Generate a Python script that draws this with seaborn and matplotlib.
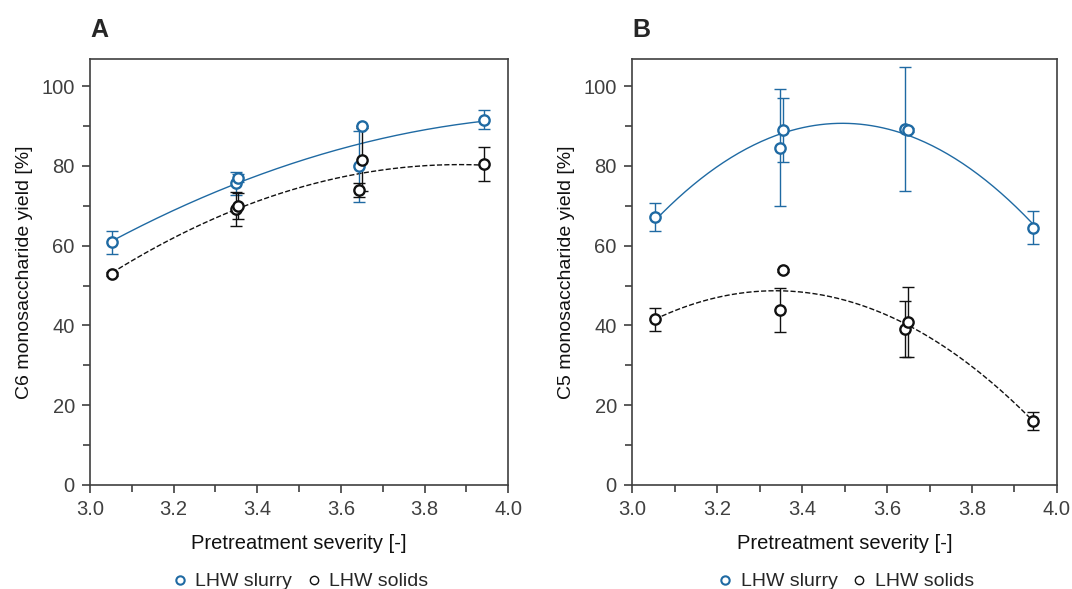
import matplotlib
matplotlib.use("Agg")
import matplotlib.pyplot as plt
import seaborn as sns
import pandas as pd
import numpy as np
from matplotlib.ticker import MultipleLocator
from matplotlib.lines import Line2D

# ==== Data ====
# Panel A: C6 monosaccharide yield
a_slurry_x = [3.053, 3.349, 3.355, 3.644, 3.650, 3.943]
a_slurry_y = [60.8, 75.6, 77.0, 79.9, 90.0, 91.6]
a_slurry_err = [2.8, 2.9, 1.0, 8.9, 0.0, 2.3]
a_solids_x = [3.053, 3.349, 3.355, 3.644, 3.650, 3.943]
a_solids_y = [53.0, 69.2, 70.0, 73.9, 81.6, 80.4]
a_solids_err = [0.5, 4.2, 3.3, 1.8, 8.0, 4.3]

# Panel B: C5 monosaccharide yield
b_slurry_x = [3.054, 3.348, 3.355, 3.642, 3.650, 3.944]
b_slurry_y = [67.2, 84.6, 89.0, 89.2, 89.0, 64.5]
b_slurry_err = [3.6, 14.7, 8.1, 15.6, 0.5, 4.2]
b_solids_x = [3.054, 3.348, 3.355, 3.642, 3.650, 3.944]
b_solids_y = [41.5, 43.9, 53.8, 39.2, 40.9, 16.1]
b_solids_err = [2.8, 5.6, 0.3, 7.0, 8.7, 2.3]

blue = "#1f6aa3"
black = "#111111"
grey = "#404040"

sns.set_style("ticks")
plt.rcParams['font.family'] = ['Liberation Sans', 'DejaVu Sans']

fig = plt.figure(figsize=(10.72, 5.89), dpi=100)
ax_a = fig.add_axes([0.084, 0.1766, 0.390, 0.7232])
ax_b = fig.add_axes([0.5896, 0.1766, 0.3964, 0.7232])


def draw_panel(ax, sx, sy, se, ox, oy, oe, ylabel, letter):
    for x, y, e, col, ls in [(sx, sy, se, blue, '-'), (ox, oy, oe, black, '--')]:
        coef = np.polyfit(x, y, 2)
        xf = np.linspace(min(x), max(x), 200)
        fit = pd.DataFrame({'x': xf, 'y': np.polyval(coef, xf)})
        sns.lineplot(data=fit, x='x', y='y', ax=ax, color=col, lw=1.0,
                     linestyle=ls, dashes=(3, 3) if ls == '--' else None)
        ax.errorbar(x, y, yerr=e, fmt='none', ecolor=col, elinewidth=1.0,
                    capsize=4, capthick=1.0, zorder=3)
        df = pd.DataFrame({'x': x, 'y': y})
        sns.scatterplot(data=df, x='x', y='y', ax=ax, marker='o', s=55,
                        facecolor='white', edgecolor=col, linewidth=1.7, zorder=4)

    ax.set_xlim(3.0, 4.0)
    ax.set_ylim(0, 106.8)
    ax.xaxis.set_major_locator(MultipleLocator(0.2))
    ax.xaxis.set_minor_locator(MultipleLocator(0.1))
    ax.yaxis.set_major_locator(MultipleLocator(20))
    ax.yaxis.set_minor_locator(MultipleLocator(10))
    ax.xaxis.set_major_formatter(plt.FormatStrFormatter('%.1f'))
    ax.tick_params(which='both', direction='out', colors=grey, labelsize=14.5,
                   width=1.2)
    ax.tick_params(which='major', length=6)
    ax.tick_params(axis='x', which='major', pad=5)
    ax.tick_params(axis='y', which='major', pad=5)
    ax.tick_params(which='minor', length=5)
    for sp in ax.spines.values():
        sp.set_color(grey)
        sp.set_linewidth(1.2)
    ax.set_xlabel("Pretreatment severity [-]", fontsize=14.5, color='#111111', labelpad=10.5)
    ax.set_ylabel(ylabel, fontsize=14, color='#111111', labelpad=6)
    ax.text(0.0, 1.04, letter, transform=ax.transAxes, fontsize=18,
            fontweight='bold', va='bottom', ha='left')

    handles = [Line2D([], [], marker='o', ls='none', mfc='white', mec=blue,
                      mew=1.5, ms=6),
               Line2D([], [], marker='o', ls='none', mfc='white', mec=black,
                      mew=1.0, ms=6)]
    ax.legend(handles, ["LHW slurry", "LHW solids"], loc='center',
              bbox_to_anchor=(0.5, -0.227), ncol=2, frameon=False, fontsize=14,
              handletextpad=0.3, columnspacing=0.6, handlelength=1.0)


draw_panel(ax_a, a_slurry_x, a_slurry_y, a_slurry_err,
           a_solids_x, a_solids_y, a_solids_err,
           "C6 monosaccharide yield [%]", "A")
draw_panel(ax_b, b_slurry_x, b_slurry_y, b_slurry_err,
           b_solids_x, b_solids_y, b_solids_err,
           "C5 monosaccharide yield [%]", "B")

fig.savefig("out.png", dpi=100)
